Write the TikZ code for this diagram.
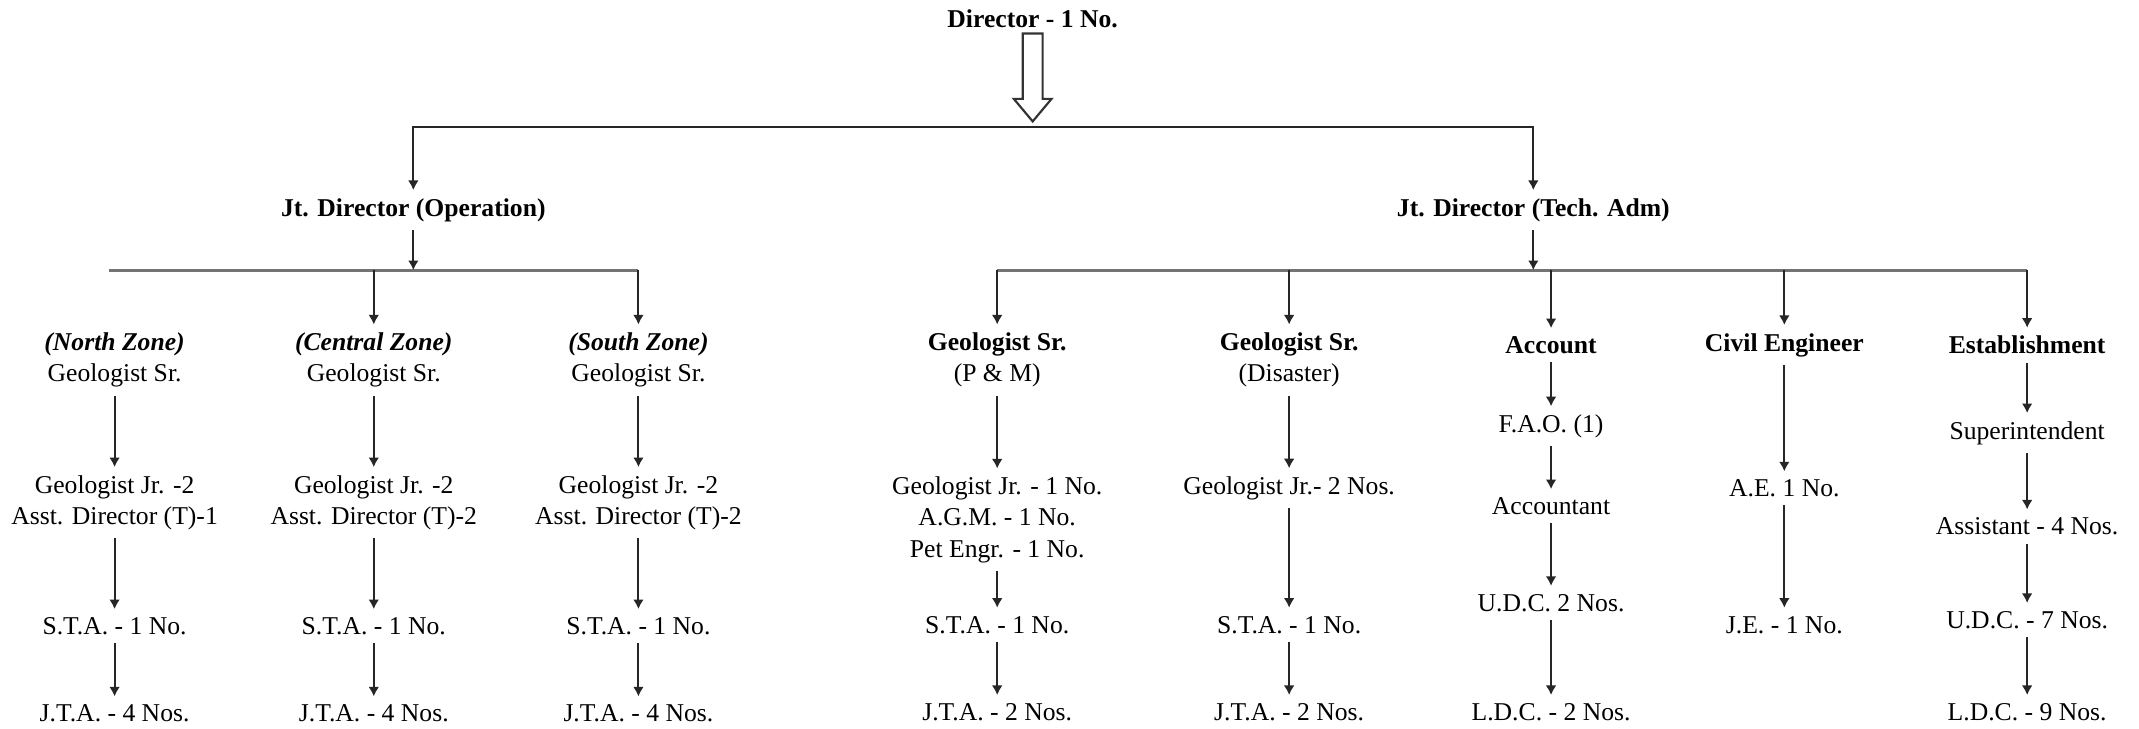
\documentclass[tikz,border=0pt]{standalone}
\usepackage{fontspec}
\setmainfont{Liberation Serif}
\usepackage{tikz}
\usetikzlibrary{arrows.meta,positioning,calc}

\begin{document}
\begin{tikzpicture}[x=0.02cm,y=-0.02cm,
  post/.style={font=\fontsize{10.7}{13}\selectfont,align=center,inner sep=1.5pt,outer sep=2pt},
  head/.style={post,font=\fontsize{10.7}{13}\selectfont\bfseries},
  link/.style={-{Latex[length=4pt,width=4.5pt]},line width=0.8pt,black!85},
  bar/.style={line width=1.3pt,black!55},
]
  \useasboundingbox (0,0) rectangle (1568,534);

  % top of the chart
  \node[head] (dir) at (757,13.5) {Director - 1 No.};
  \node[head] (jdop) at (303,154) {Jt. Director (Operation)};
  \node[head] (jdtech) at (1124,154) {Jt. Director (Tech. Adm)};
  \coordinate (dtip) at (757,89);
  \coordinate (topbar) at (757,93);
  \draw[line width=0.9pt,black!80,line join=miter] (dtip) -- ++(-13.8,-16.5) -- ++(6.5,0)
    -- ++(0,-48) -- ++(14.6,0) -- ++(0,48) -- ++(6.5,0) -- cycle;
  \draw[link] (topbar) -| (jdop);
  \draw[link] (topbar) -| (jdtech);

  % operation wing
  \node[post] (nz) at (84,264) {\textbf{\textit{(North Zone)}}\\Geologist Sr.};
  \node[post] (nz2) at (84,368.5) {Geologist Jr. -2\\Asst. Director (T)-1};
  \node[post] (nz3) at (84,459) {S.T.A. - 1 No.};
  \node[post] (nz4) at (84,523) {J.T.A. - 4 Nos.};
  \node[post] (cz) at (274,264) {\textbf{\textit{(Central Zone)}}\\Geologist Sr.};
  \node[post] (cz2) at (274,368.5) {Geologist Jr. -2\\Asst. Director (T)-2};
  \node[post] (cz3) at (274,459) {S.T.A. - 1 No.};
  \node[post] (cz4) at (274,523) {J.T.A. - 4 Nos.};
  \node[post] (sz) at (468,264) {\textbf{\textit{(South Zone)}}\\Geologist Sr.};
  \node[post] (sz2) at (468,368.5) {Geologist Jr. -2\\Asst. Director (T)-2};
  \node[post] (sz3) at (468,459) {S.T.A. - 1 No.};
  \node[post] (sz4) at (468,523) {J.T.A. - 4 Nos.};

  % technical / administration wing
  \node[post] (pm) at (731,264) {\textbf{Geologist Sr.}\\(P \& M)};
  \node[post] (pm2) at (731,381) {Geologist Jr. - 1 No.\\A.G.M. - 1 No.\\Pet Engr. - 1 No.};
  \node[post] (pm3) at (731,458) {S.T.A. - 1 No.};
  \node[post] (pm4) at (731,522) {J.T.A. - 2 Nos.};
  \node[post] (ds) at (945,264) {\textbf{Geologist Sr.}\\(Disaster)};
  \node[post] (ds2) at (945,358) {Geologist Jr.- 2 Nos.};
  \node[post] (ds3) at (945,458) {S.T.A. - 1 No.};
  \node[post] (ds4) at (945,522) {J.T.A. - 2 Nos.};
  \node[head] (ac) at (1137,253) {Account};
  \node[post] (ac2) at (1137,312.5) {F.A.O. (1)};
  \node[post] (ac3) at (1137,371) {Accountant};
  \node[post] (ac4) at (1137,442) {U.D.C. 2 Nos.};
  \node[post] (ac5) at (1137,522) {L.D.C. - 2 Nos.};
  \node[head] (ce) at (1308,253) {Civil Engineer};
  \node[post] (ce2) at (1308,358) {A.E. 1 No.};
  \node[post] (ce3) at (1308,458) {J.E. - 1 No.};
  \node[head] (es) at (1486,253) {Establishment};
  \node[post] (es2) at (1486,317.5) {Superintendent};
  \node[post] (es3) at (1486,386) {Assistant - 4 Nos.};
  \node[post] (es4) at (1486,454.5) {U.D.C. - 7 Nos.};
  \node[post] (es5) at (1486,522) {L.D.C. - 9 Nos.};

  % bars and connectors
  \coordinate (opbar) at (303,198);
  \coordinate (techbar) at (1124,198);
  \draw[bar] ([xshift=-0.08cm]nz |- opbar) -- (sz |- opbar);
  \draw[bar] (pm |- techbar) -- (es |- techbar);
  \draw[link] (jdop) -- (opbar);
  \draw[link] (jdtech) -- (techbar);
  \foreach \n in {cz,sz}
    \draw[link] (\n |- opbar) -- (\n);
  \foreach \n in {pm,ds,ac,ce,es}
    \draw[link] (\n |- techbar) -- (\n);
  \foreach \a/\b in {nz/nz2,nz2/nz3,nz3/nz4,cz/cz2,cz2/cz3,cz3/cz4,sz/sz2,sz2/sz3,sz3/sz4,
      pm/pm2,pm2/pm3,pm3/pm4,ds/ds2,ds2/ds3,ds3/ds4,ac/ac2,ac2/ac3,ac3/ac4,ac4/ac5,
      ce/ce2,ce2/ce3,es/es2,es2/es3,es3/es4,es4/es5}
    \draw[link] (\a) -- (\b);
\end{tikzpicture}
\end{document}
